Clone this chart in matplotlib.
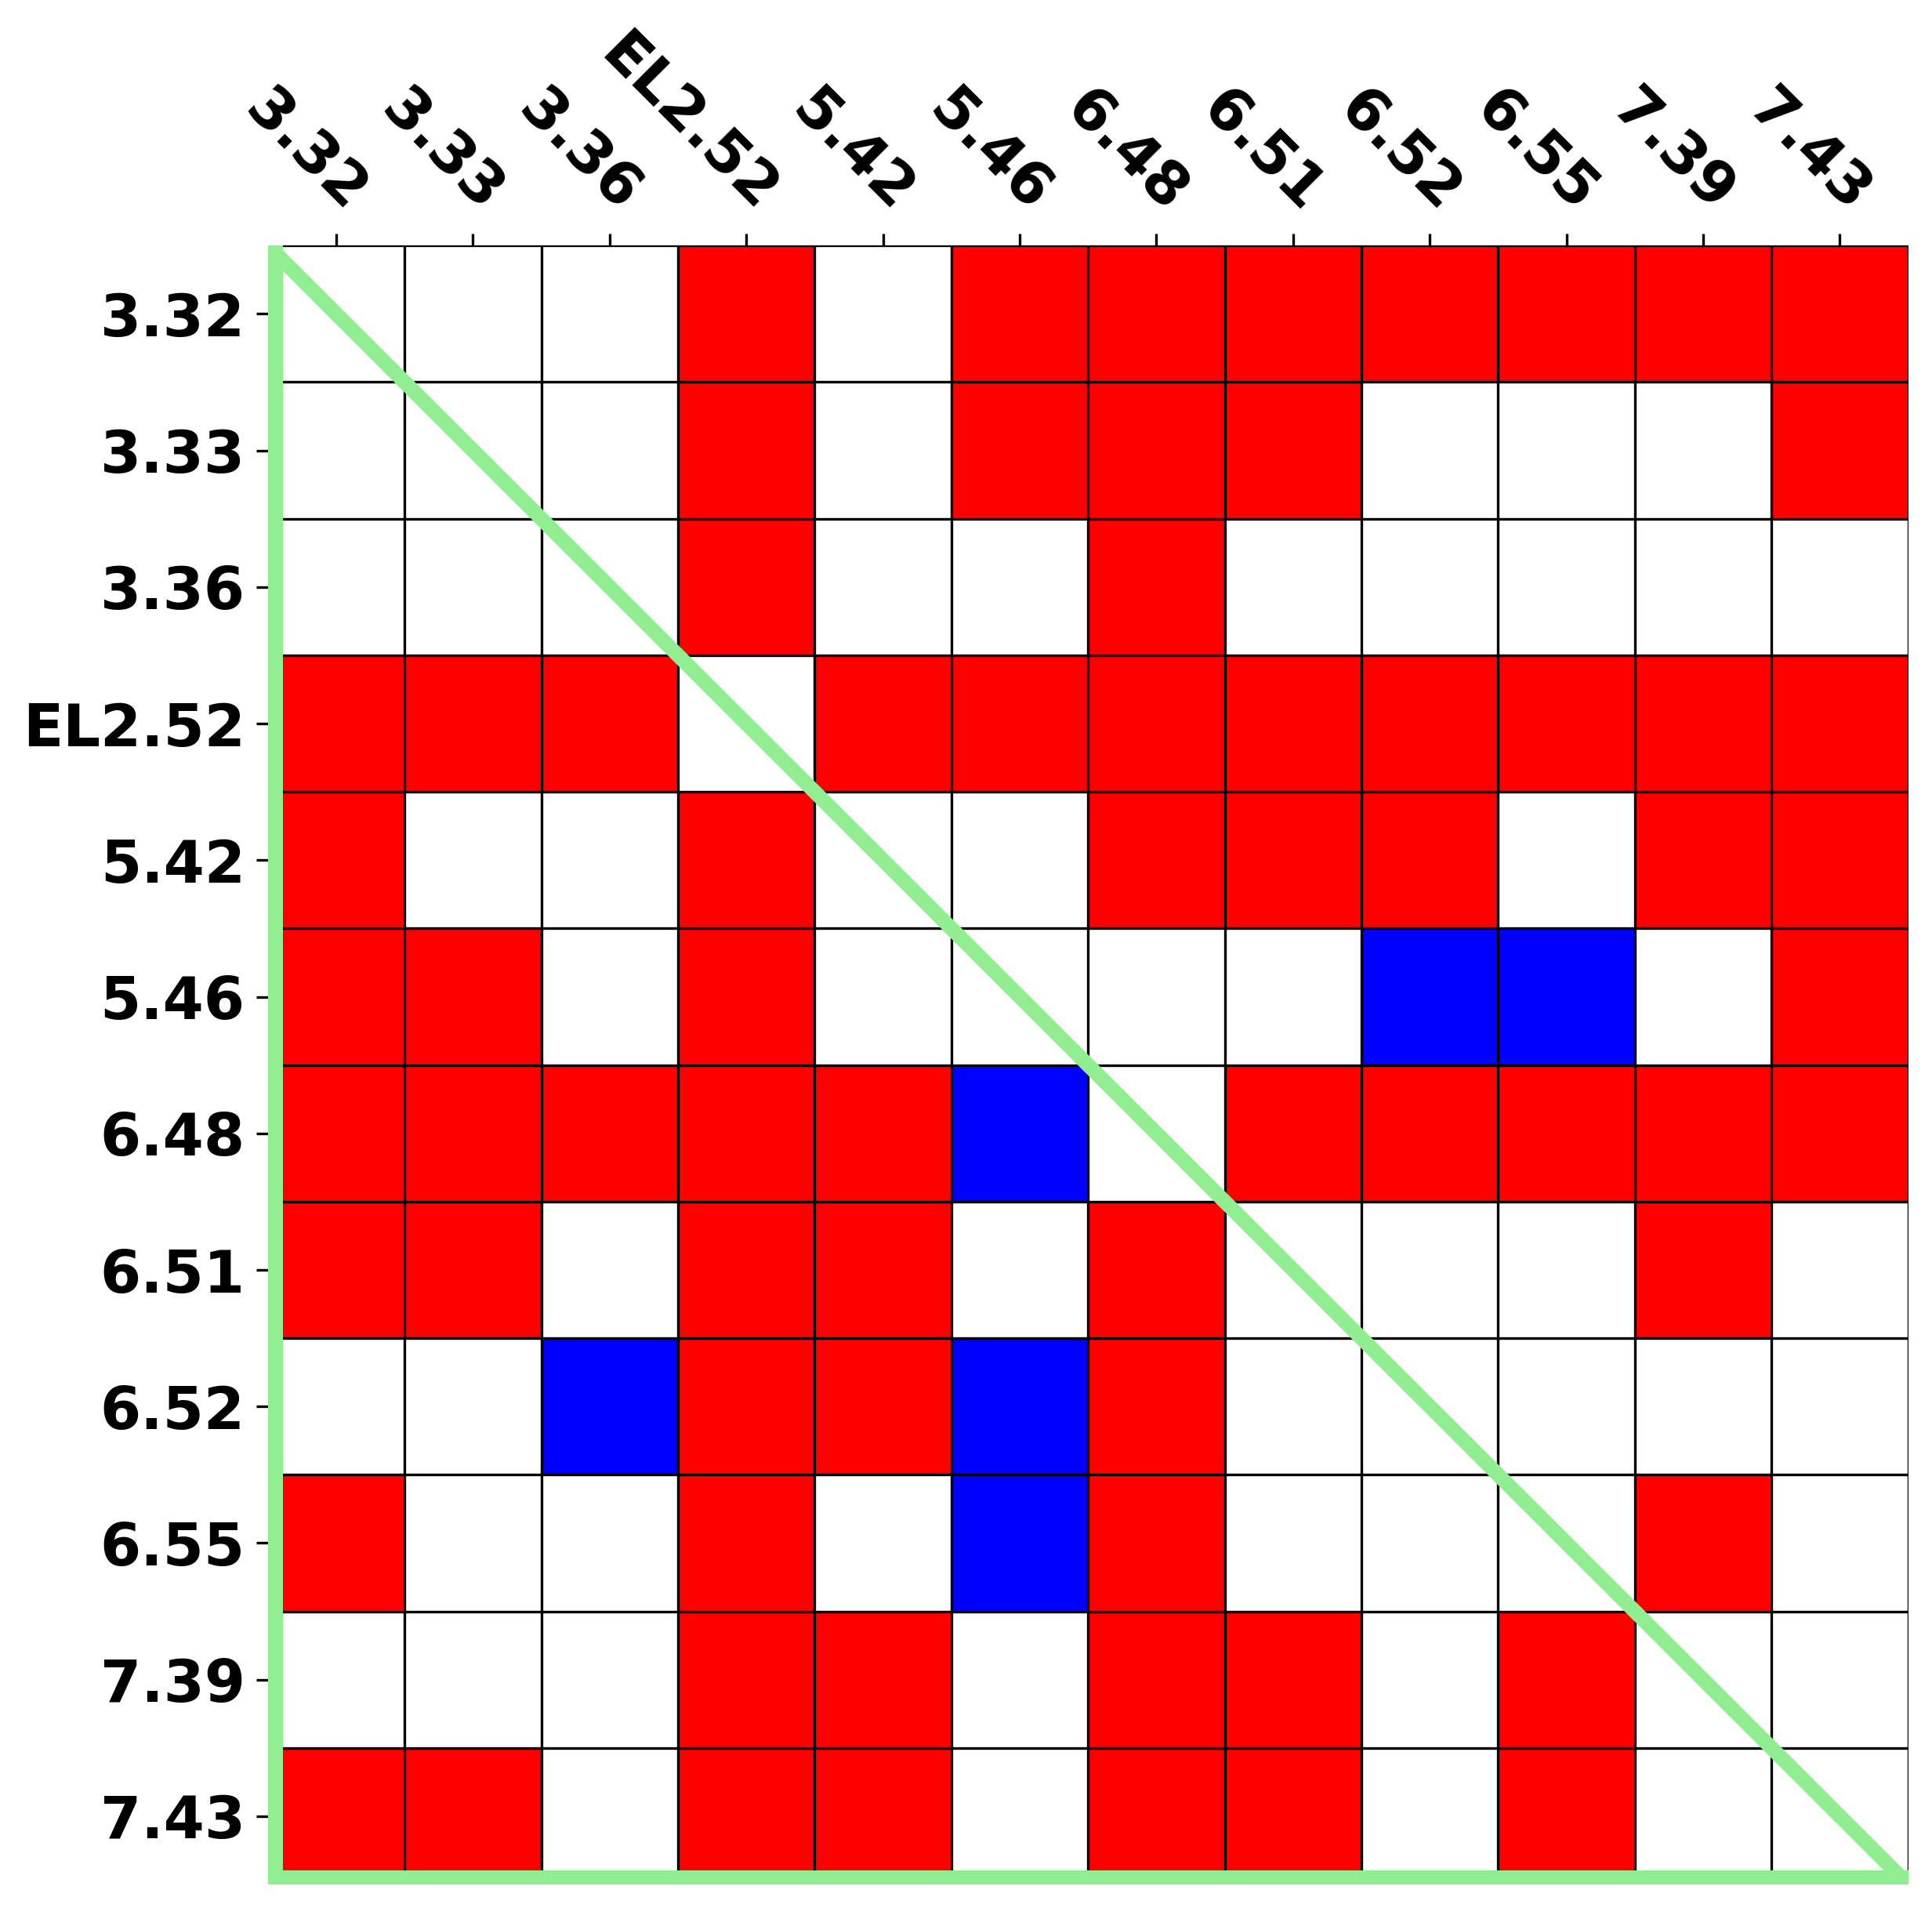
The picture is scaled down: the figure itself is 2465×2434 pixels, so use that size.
import numpy as np
import matplotlib.pyplot as plt
from matplotlib.colors import ListedColormap

labels = ["3.32", "3.33", "3.36", "EL2.52", "5.42", "5.46",
          "6.48", "6.51", "6.52", "6.55", "7.39", "7.43"]

# 1 = red, 0 = white, -1 = blue
row_332 = [0, 0, 0, 1, 0, 1, 1, 1, 1, 1, 1, 1]
row_333 = [0, 0, 0, 1, 0, 1, 1, 1, 0, 0, 0, 1]
row_336 = [0, 0, 0, 1, 0, 0, 1, 0, 0, 0, 0, 0]
row_252 = [1, 1, 1, 0, 1, 1, 1, 1, 1, 1, 1, 1]
row_542 = [1, 0, 0, 1, 0, 0, 1, 1, 1, 0, 1, 1]
row_546 = [1, 1, 0, 1, 0, 0, 0, 0, -1, -1, 0, 1]
row_648 = [1, 1, 1, 1, 1, -1, 0, 1, 1, 1, 1, 1]
row_651 = [1, 1, 0, 1, 1, 0, 1, 0, 0, 0, 1, 0]
row_652 = [0, 0, -1, 1, 1, -1, 1, 0, 0, 0, 0, 0]
row_655 = [1, 0, 0, 1, 0, -1, 1, 0, 0, 0, 1, 0]
row_739 = [0, 0, 0, 1, 1, 0, 1, 1, 0, 1, 0, 0]
row_743 = [1, 1, 0, 1, 1, 0, 1, 1, 0, 1, 0, 0]

mat = np.array([row_332, row_333, row_336, row_252, row_542, row_546,
                row_648, row_651, row_652, row_655, row_739, row_743])
n = len(labels)

cmap = ListedColormap(["blue", "white", "red"])

fig = plt.figure(figsize=(2465 / 300, 2434 / 300), dpi=300)
ax = fig.add_axes([0.1387, 0.0123, 0.849, 0.859])
ax.imshow(mat, cmap=cmap, vmin=-1.5, vmax=1.5, aspect="auto")

ax.set_xticks(np.arange(n))
ax.set_yticks(np.arange(n))
ax.set_xticklabels(labels, fontsize=18, fontweight="bold")
ax.set_yticklabels(labels, fontsize=18, fontweight="bold")
ax.tick_params(top=True, bottom=False, labeltop=True, labelbottom=False)
plt.setp(ax.get_xticklabels(), rotation=-45, ha="right", rotation_mode="anchor")

ax.spines[:].set_visible(False)
ax.set_xticks(np.arange(n + 1) - 0.5, minor=True)
ax.set_yticks(np.arange(n + 1) - 0.5, minor=True)
ax.grid(which="minor", color="black", linestyle="-", linewidth=0.8)
ax.tick_params(which="minor", top=False, bottom=False, left=False)

# lower triangle outline
green = "#90ee90"
ax.plot([-0.5, n - 0.5], [-0.5, n - 0.5], color=green, lw=4.5, zorder=5)
ax.plot([-0.45, -0.45, n - 0.5], [-0.5, n - 0.545, n - 0.545], color=green, lw=4.8,
        solid_joinstyle="miter", zorder=5)
ax.set_xlim(-0.5, n - 0.5)
ax.set_ylim(n - 0.5, -0.5)

fig.savefig("out.png", dpi=300)
